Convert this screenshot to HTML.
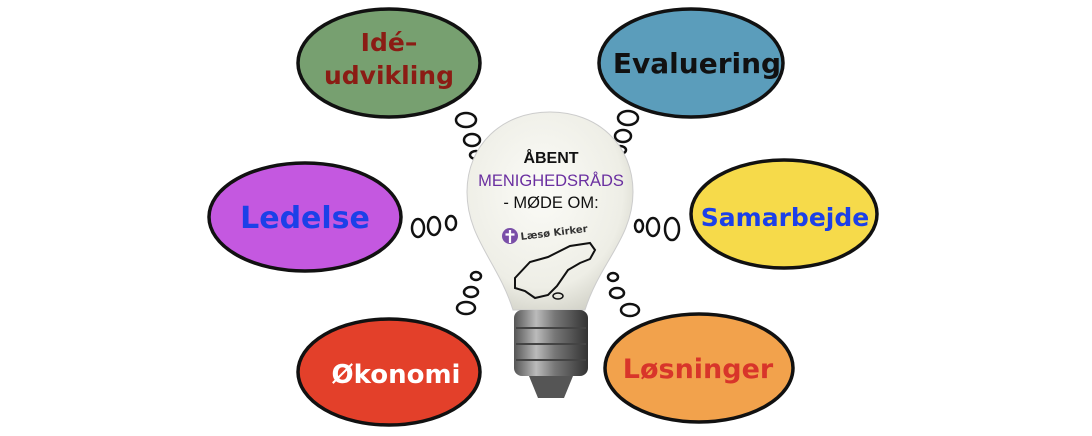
<!DOCTYPE html>
<html><head><meta charset="utf-8"><style>
html,body{margin:0;padding:0;background:#fff;}
svg{display:block}
text{font-family:"DejaVu Sans","Liberation Sans",sans-serif;font-weight:bold;}
.h{font-family:"Liberation Sans",sans-serif;}
</style></head><body>
<svg width="1092" height="436" viewBox="0 0 1092 436" xmlns="http://www.w3.org/2000/svg">
<defs>
<radialGradient id="bulb" cx="0.45" cy="0.4" r="0.65">
<stop offset="0" stop-color="#fbfbf7"/><stop offset="0.75" stop-color="#eeeee6"/><stop offset="1" stop-color="#d2d2c8"/></radialGradient>
<linearGradient id="base" x1="0" x2="1"><stop offset="0" stop-color="#555"/><stop offset="0.3" stop-color="#bbb"/><stop offset="0.55" stop-color="#777"/><stop offset="1" stop-color="#333"/></linearGradient>
</defs>
<g stroke="#111" stroke-width="3.5">
<ellipse cx="389" cy="63" rx="91" ry="54" fill="#77a070"/>
<ellipse cx="691" cy="63" rx="92" ry="54" fill="#5b9dbb"/>
<ellipse cx="305" cy="217" rx="96" ry="54" fill="#c458e0"/>
<ellipse cx="784" cy="214" rx="93" ry="54" fill="#f6da4a"/>
<ellipse cx="389" cy="372" rx="91" ry="53" fill="#e3402a"/>
<ellipse cx="699" cy="368" rx="94" ry="54" fill="#f2a24c"/>
</g>
<g stroke="#111" stroke-width="2.5" fill="none">
<ellipse cx="466" cy="120" rx="10" ry="7"/><ellipse cx="472" cy="140" rx="8" ry="6"/><ellipse cx="476" cy="155" rx="6" ry="4"/>
<ellipse cx="628" cy="118" rx="10" ry="7"/><ellipse cx="623" cy="136" rx="8" ry="6"/><ellipse cx="620" cy="150" rx="6" ry="4"/>
<ellipse cx="418" cy="228" rx="6" ry="9"/><ellipse cx="434" cy="226" rx="6" ry="9"/><ellipse cx="451" cy="223" rx="5" ry="7"/>
<ellipse cx="639" cy="226" rx="4" ry="6"/><ellipse cx="653" cy="227" rx="6" ry="9"/><ellipse cx="672" cy="229" rx="7" ry="11"/>
<ellipse cx="476" cy="276" rx="5" ry="4"/><ellipse cx="471" cy="292" rx="7" ry="5"/><ellipse cx="466" cy="308" rx="9" ry="6"/>
<ellipse cx="613" cy="277" rx="5" ry="4"/><ellipse cx="617" cy="293" rx="7" ry="5"/><ellipse cx="630" cy="310" rx="9" ry="6"/>
</g>
<path d="M550 112 C598 112 633 145 633 192 C633 238 600 262 585 310 L513 310 C498 262 467 238 467 192 C467 145 502 112 550 112 Z" fill="url(#bulb)" stroke="#ccc" stroke-width="1"/>
<rect x="514" y="310" width="74" height="66" rx="8" fill="url(#base)"/>
<g stroke="#444" stroke-width="2"><line x1="516" y1="328" x2="586" y2="328"/><line x1="516" y1="344" x2="586" y2="344"/><line x1="516" y1="360" x2="586" y2="360"/></g>
<path d="M529 376 L573 376 L564 398 L538 398 Z" fill="#555"/>
<text class="h" x="551" y="163" font-size="16" text-anchor="middle" fill="#111">ÅBENT</text>
<text class="h" x="551" y="186" font-size="16.5" text-anchor="middle" fill="#6a2fa0" style="font-weight:normal">MENIGHEDSRÅDS</text>
<text class="h" x="551" y="208" font-size="16.5" text-anchor="middle" fill="#111" style="font-weight:normal">- MØDE OM:</text>
<circle cx="510" cy="236" r="8" fill="#7a4fa8"/><path d="M510 230 V243 M505.5 234.5 H514.5" stroke="#fff" stroke-width="2.2"/>
<text x="521" y="240" font-size="10" fill="#333" transform="rotate(-7 521 240)">Læsø Kirker</text>
<path d="M515 278 L530 262 L548 257 L570 246 L590 243 L595 250 L590 259 L580 263 L568 270 L557 286 L548 295 L535 298 L525 291 L515 288 Z" fill="none" stroke="#111" stroke-width="2"/>
<ellipse cx="558" cy="296" rx="5" ry="3" fill="none" stroke="#111" stroke-width="1.5"/>
<text x="389" y="51" font-size="25" text-anchor="middle" fill="#8b1c14">Idé–</text>
<text x="389" y="84" font-size="25" text-anchor="middle" fill="#8b1c14">udvikling</text>
<text x="697" y="73" font-size="28" text-anchor="middle" fill="#111">Evaluering</text>
<text x="305" y="228" font-size="30" text-anchor="middle" fill="#1c40e8">Ledelse</text>
<text x="785" y="226" font-size="25" text-anchor="middle" fill="#1c40e8">Samarbejde</text>
<text x="396" y="383" font-size="26" text-anchor="middle" fill="#fff">Økonomi</text>
<text x="698" y="378" font-size="27" text-anchor="middle" fill="#d8352a">Løsninger</text>
</svg>
</body></html>
